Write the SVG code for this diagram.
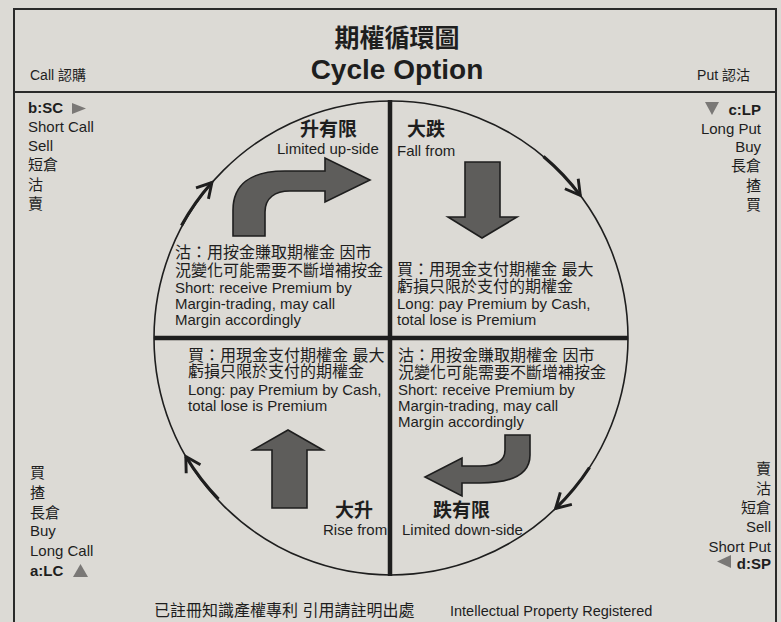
<svg xmlns="http://www.w3.org/2000/svg" width="781" height="622" viewBox="0 0 781 622">
<style>
text{font-family:"Liberation Sans","Noto Sans CJK TC",sans-serif;fill:#1e1e1e}
.lab{font-size:15px}
.b{font-weight:bold}
.q{font-size:15px}
.qc{font-size:16px}
.head{font-size:19px;font-weight:bold}
.sub{font-size:15px}
.big{fill:#5e5d5b;stroke:#1e1e1e;stroke-width:1.6;stroke-linejoin:miter}
.tri{fill:#7a7876}
.frame{fill:none;stroke:#2a2a2a;stroke-width:2}
.cyc{fill:none;stroke:#1e1e1e;stroke-width:3.2;marker-end:url(#chev)}
</style>
<defs>
<marker id="chev" viewBox="0 0 10 10" refX="8.5" refY="5" markerWidth="6.5" markerHeight="6.5" orient="auto" markerUnits="strokeWidth">
<path d="M1.5,1 L8.5,5 L1.5,9" fill="none" stroke="#1e1e1e" stroke-width="1.4"/>
</marker>
</defs>
<rect x="0" y="0" width="781" height="622" fill="#dcdad5"/>
<g id="frame">
<rect class="frame" x="14" y="9" width="762" height="640"/>
<line x1="14" y1="92" x2="776" y2="92" stroke="#2a2a2a" stroke-width="2"/>
</g>
<g id="title">
<text x="397" y="47" text-anchor="middle" class="b" font-size="25">期權循環圖</text>
<text x="397" y="79" text-anchor="middle" class="b" font-size="28">Cycle Option</text>
<text x="30" y="80" font-size="14">Call 認購</text>
<text x="750" y="80" font-size="14" text-anchor="end">Put 認沽</text>
</g>
<g id="circle">
<circle cx="391" cy="338" r="237" fill="none" stroke="#1e1e1e" stroke-width="1.6"/>
<line x1="390" y1="100" x2="390" y2="576" stroke="#1e1e1e" stroke-width="4.5"/>
<line x1="154" y1="338" x2="628" y2="338" stroke="#1e1e1e" stroke-width="4.5"/>
</g>
<g id="label-b-sc" class="lab">
<text x="28" y="113" class="b">b:SC</text>
<path class="tri" d="M72,103 L86,108.5 L72,114 Z"/>
<text x="28" y="132">Short Call</text>
<text x="28" y="151">Sell</text>
<text x="28" y="170">短倉</text>
<text x="28" y="190">沽</text>
<text x="28" y="209">賣</text>
</g>
<g id="label-c-lp" class="lab" text-anchor="end">
<path class="tri" d="M705,102 L719,102 L712,115 Z"/>
<text x="761" y="115" class="b">c:LP</text>
<text x="761" y="134">Long Put</text>
<text x="761" y="152">Buy</text>
<text x="761" y="171">長倉</text>
<text x="761" y="191">揸</text>
<text x="761" y="210">買</text>
</g>
<g id="label-a-lc" class="lab">
<text x="30" y="478">買</text>
<text x="30" y="498">揸</text>
<text x="30" y="518">長倉</text>
<text x="30" y="536">Buy</text>
<text x="30" y="556">Long Call</text>
<text x="30" y="576" class="b">a:LC</text>
<path class="tri" d="M73,577 L80.5,564 L88,577 Z"/>
</g>
<g id="label-d-sp" class="lab" text-anchor="end">
<text x="771" y="474">賣</text>
<text x="771" y="494">沽</text>
<text x="771" y="513">短倉</text>
<text x="771" y="532">Sell</text>
<text x="771" y="552">Short Put</text>
<text x="771" y="569" class="b">d:SP</text>
<path class="tri" d="M731,555 L731,568 L717,561.5 Z"/>
</g>
<g id="q-limited-up">
<text x="300" y="136" class="head">升有限</text>
<text x="277" y="154" class="sub">Limited up-side</text>
<path class="big" d="M233,236 L233,210 C233,185 250,171 285,171 L325,171 L325,158 L370,180 L325,202 L325,191 L290,191 C275,191 265,198 265,212 L265,236 Z"/>
<text x="175" y="258" class="qc">沽：用按金賺取期權金 因市</text>
<text x="175" y="276" class="qc">況變化可能需要不斷增補按金</text>
<text x="175" y="293" class="q">Short: receive Premium by</text>
<text x="175" y="309" class="q">Margin-trading, may call</text>
<text x="175" y="325" class="q">Margin accordingly</text>
</g>
<g id="q-fall-from">
<text x="407" y="136" class="head">大跌</text>
<text x="397" y="156" class="sub">Fall from</text>
<path class="big" d="M465,162 L500,162 L500,217 L517,217 L482,238 L448,217 L465,217 Z"/>
<text x="397" y="275" class="qc">買：用現金支付期權金 最大</text>
<text x="397" y="292" class="qc">虧損只限於支付的期權金</text>
<text x="397" y="309" class="q">Long: pay Premium by Cash,</text>
<text x="397" y="325" class="q">total lose is Premium</text>
</g>
<g id="q-rise-from">
<text x="188" y="361" class="qc">買：用現金支付期權金 最大</text>
<text x="188" y="377" class="qc">虧損只限於支付的期權金</text>
<text x="188" y="395" class="q">Long: pay Premium by Cash,</text>
<text x="188" y="411" class="q">total lose is Premium</text>
<path class="big" d="M288,430 L323,450 L307,450 L307,508 L272,508 L272,450 L253,450 Z"/>
<text x="335" y="517" class="head">大升</text>
<text x="323" y="535" class="sub">Rise from</text>
</g>
<g id="q-limited-down">
<text x="398" y="361" class="qc">沽：用按金賺取期權金 因市</text>
<text x="398" y="378" class="qc">況變化可能需要不斷增補按金</text>
<text x="398" y="395" class="q">Short: receive Premium by</text>
<text x="398" y="411" class="q">Margin-trading, may call</text>
<text x="398" y="427" class="q">Margin accordingly</text>
<path class="big" d="M505,435 L530,435 L530,455 C530,475 510,483 480,483 L462,483 L462,496 L425,477 L462,458 L462,466 L480,466 C498,466 505,460 505,450 Z"/>
<text x="433" y="517" class="head">跌有限</text>
<text x="402" y="535" class="sub">Limited down-side</text>
</g>
<g id="connectors">
<path class="cyc" d="M181.5,225.5 A237,237 0 0 1 211.9,182.5"/>
<path class="cyc" d="M543.5,156.5 A237,237 0 0 1 580.3,195.4"/>
<path class="cyc" d="M589.5,467.5 A237,237 0 0 1 555.6,508.5"/>
<path class="cyc" d="M218.5,499 A237,237 0 0 1 185.8,456.5"/>
</g>
<g id="footer">
<text x="154" y="616" font-size="16">已註冊知識產權專利 引用請註明出處</text>
<text x="450" y="616" font-size="14.5">Intellectual Property Registered</text>
</g>
</svg>
